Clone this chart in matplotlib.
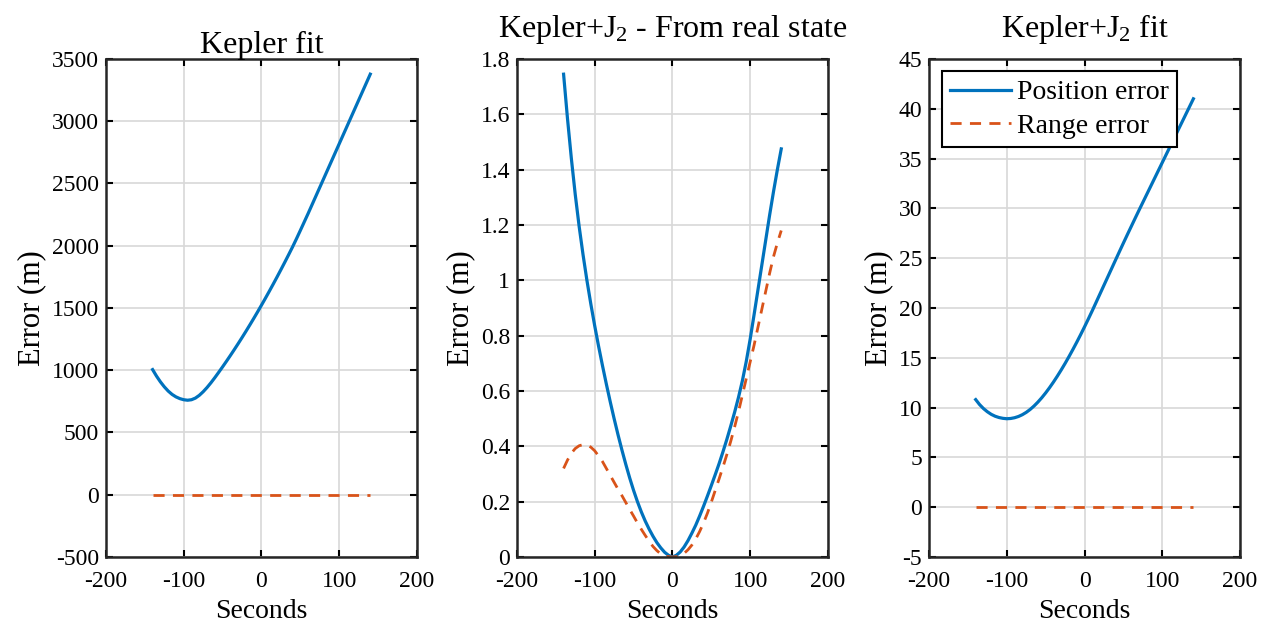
import numpy as np
import matplotlib
matplotlib.use('Agg')
import matplotlib.pyplot as plt
from matplotlib.ticker import FuncFormatter

plt.rcParams['font.family'] = ['Liberation Serif', 'DejaVu Serif']
plt.rcParams['mathtext.fontset'] = 'custom'
plt.rcParams['mathtext.rm'] = 'Liberation Serif'
plt.rcParams['mathtext.it'] = 'Liberation Serif'
plt.rcParams['mathtext.default'] = 'rm'
plt.rcParams['axes.unicode_minus'] = False

# time axis (s), 5 s steps
t = list(range(-140, 141, 5))

# Kepler fit
kep_pos = [1005, 953, 907, 867, 833, 806, 786, 772, 763, 759,
           763, 776, 798, 827, 861, 899, 940, 983, 1027, 1072,
           1118, 1165, 1213, 1262, 1312, 1363, 1415, 1468, 1522,
           1577, 1633, 1690, 1748, 1807, 1867, 1928, 1990, 2055, 2122,
           2190, 2258, 2328, 2398, 2468, 2538, 2608, 2678, 2748, 2818,
           2888, 2958, 3028, 3098, 3168, 3238, 3308, 3378]
kep_rng = [0] * len(t)

# Kepler+J2 from real state
real_pos = [1.745, 1.585, 1.44, 1.31, 1.195, 1.093, 1.0, 0.915, 0.836, 0.762,
            0.692, 0.625, 0.561, 0.50, 0.442, 0.387, 0.335, 0.286, 0.241, 0.20,
            0.163, 0.13, 0.101, 0.075, 0.052, 0.033, 0.017, 0.006, 0.0,
            0.006, 0.018, 0.036, 0.059, 0.086, 0.115, 0.148, 0.183, 0.22, 0.258,
            0.297, 0.337, 0.38, 0.425, 0.473, 0.523, 0.577, 0.637, 0.707, 0.787,
            0.875, 0.965, 1.055, 1.145, 1.235, 1.32, 1.40, 1.475]
real_rng = [0.32, 0.35, 0.375, 0.392, 0.402, 0.406, 0.405, 0.397, 0.384, 0.365,
            0.345, 0.32, 0.295, 0.27, 0.245, 0.222, 0.197, 0.172, 0.148, 0.123,
            0.10, 0.078, 0.057, 0.038, 0.023, 0.011, 0.004, 0.001, 0.0,
            0.001, 0.005, 0.013, 0.026, 0.043, 0.065, 0.092, 0.123, 0.158, 0.198,
            0.24, 0.282, 0.325, 0.37, 0.418, 0.47, 0.525, 0.585, 0.645, 0.705,
            0.765, 0.83, 0.895, 0.96, 1.025, 1.085, 1.135, 1.18]

# Kepler+J2 fit
j2_pos = [10.8, 10.3, 9.9, 9.58, 9.32, 9.13, 9.0, 8.92, 8.88, 8.905,
          8.98, 9.105, 9.285, 9.52, 9.81, 10.155, 10.55, 10.99, 11.475, 12.0,
          12.56, 13.155, 13.78, 14.435, 15.12, 15.83, 16.565, 17.325, 18.11,
          18.915, 19.735, 20.585, 21.435, 22.285, 23.135, 23.985, 24.835, 25.68, 26.52,
          27.35, 28.17, 28.99, 29.8, 30.6, 31.4, 32.2, 33.0, 33.8, 34.6,
          35.4, 36.2, 37.0, 37.8, 38.6, 39.4, 40.2, 41.0]
j2_rng = [0] * len(t)

titles = ['Kepler fit', 'Kepler+J$_2$ - From real state', 'Kepler+J$_2$ fit']
title_pads = [4, 16, 16]
ylims = [(-500, 3500), (0, 1.8), (-5, 45)]
ysteps = [500, 0.2, 5]
lefts = [0.0839, 0.4093, 0.7356]

blue = '#0072BD'
orange = '#D95319'

fig = plt.figure(figsize=(12.63, 6.28), dpi=100)

series = [(kep_pos, kep_rng), (real_pos, real_rng), (j2_pos, j2_rng)]
for i, (pos, rng) in enumerate(series):
    ax = fig.add_axes([lefts[i], 0.1131, 0.2462, 0.793])
    ax.plot(t, pos, color=blue, lw=2.3, label='Position error')
    ax.plot(t, rng, color=orange, lw=2.0, ls=(0, (4, 3)), label='Range error')
    ax.set_xlim(-200, 200)
    ax.set_ylim(*ylims[i])
    ax.set_xticks(np.arange(-200, 201, 100))
    ax.set_yticks(np.arange(ylims[i][0], ylims[i][1] + ysteps[i] / 2, ysteps[i]))
    ax.yaxis.set_major_formatter(FuncFormatter(lambda v, p: '%g' % round(v, 6)))
    ax.grid(True, color='#d8d8d8', lw=1.2)
    ax.set_axisbelow(True)
    ax.tick_params(direction='in', top=True, right=True, length=5, width=1.5,
                   labelsize=17)
    ax.tick_params(axis='x', pad=10)
    ax.tick_params(axis='y', pad=5)
    for s in ax.spines.values():
        s.set_linewidth(1.8)
        s.set_color('#262626')
    ax.set_xlabel('Seconds', fontsize=20, labelpad=5)
    ax.set_ylabel('Error (m)', fontsize=22, labelpad=4)
    ax.set_title(titles[i], fontsize=23, pad=title_pads[i])
    if i == 2:
        leg = ax.legend(loc='upper left', fontsize=20, fancybox=False, framealpha=1,
                        edgecolor='black', handlelength=2.2, borderpad=0.3,
                        labelspacing=0.3, handletextpad=0.2, borderaxespad=0.45)
        leg.get_frame().set_linewidth(1.5)

fig.savefig('out.png', dpi=100)
